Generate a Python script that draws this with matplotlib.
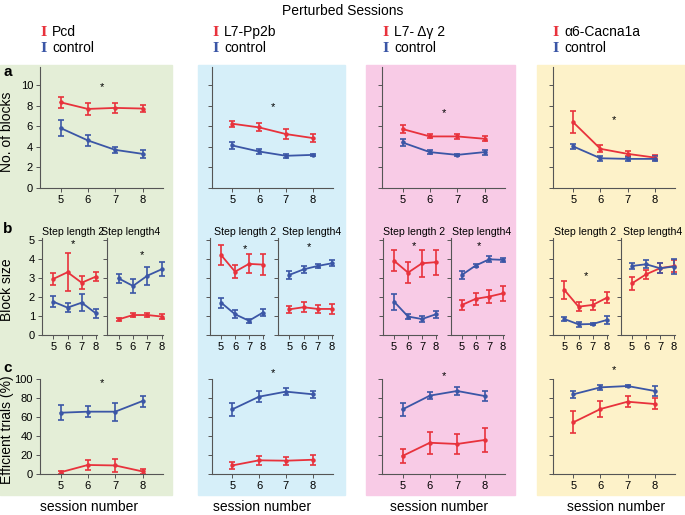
import matplotlib
matplotlib.use('Agg')
import matplotlib.pyplot as plt
from matplotlib.patches import Rectangle

plt.rcParams['font.family'] = ['Liberation Sans', 'DejaVu Sans']

sessions = [5, 6, 7, 8]
mutants = ['Pcd', 'L7-Pp2b', 'L7- \u0394\u03b3 2', '\u03b16-Cacna1a']

# a: number of blocks (mutant / control, mean and error)
blocks_mut = [[8.36, 7.71, 7.81, 7.75], [6.27, 5.91, 5.26, 4.87],
              [5.75, 5.03, 5.03, 4.80], [6.40, 3.82, 3.33, 2.97]]
blocks_mut_err = [[0.52, 0.57, 0.50, 0.33], [0.30, 0.40, 0.45, 0.40],
                  [0.36, 0.20, 0.25, 0.25], [1.07, 0.35, 0.25, 0.20]]
blocks_ctl = [[5.85, 4.64, 3.72, 3.33], [4.15, 3.56, 3.14, 3.23],
              [4.44, 3.50, 3.23, 3.50], [4.05, 2.90, 2.84, 2.84]]
blocks_ctl_err = [[0.78, 0.57, 0.30, 0.40], [0.30, 0.25, 0.20, 0.13],
                  [0.30, 0.20, 0.10, 0.25], [0.25, 0.25, 0.22, 0.25]]

# b: block size, step length 2
step2_mut = [[2.95, 3.30, 2.75, 3.07], [4.20, 3.33, 3.74, 3.70],
             [3.90, 3.28, 3.77, 3.83], [2.37, 1.49, 1.58, 1.96]]
step2_mut_err = [[0.30, 1.00, 0.35, 0.24], [0.53, 0.35, 0.50, 0.55],
                 [0.55, 0.55, 0.70, 0.66], [0.47, 0.25, 0.25, 0.30]]
step2_ctl = [[1.75, 1.44, 1.70, 1.14], [1.70, 1.09, 0.75, 1.18],
             [1.75, 0.97, 0.84, 1.09], [0.84, 0.56, 0.58, 0.79]]
step2_ctl_err = [[0.30, 0.24, 0.46, 0.25], [0.26, 0.20, 0.10, 0.18],
                 [0.41, 0.15, 0.18, 0.18], [0.12, 0.12, 0.07, 0.20]]

# b: block size, step length 4
step4_mut = [[0.82, 1.05, 1.05, 0.97], [1.35, 1.46, 1.37, 1.37],
             [1.58, 1.90, 2.02, 2.19], [2.72, 3.19, 3.51, 3.63]]
step4_mut_err = [[0.10, 0.10, 0.12, 0.12], [0.20, 0.25, 0.20, 0.25],
                 [0.25, 0.30, 0.35, 0.40], [0.35, 0.25, 0.25, 0.30]]
step4_ctl = [[2.98, 2.58, 3.12, 3.46], [3.16, 3.45, 3.63, 3.77],
             [3.16, 3.65, 3.98, 3.95], [3.63, 3.72, 3.51, 3.60]]
step4_ctl_err = [[0.24, 0.39, 0.48, 0.38], [0.20, 0.18, 0.12, 0.15],
                 [0.20, 0.10, 0.15, 0.12], [0.15, 0.20, 0.25, 0.40]]

# c: efficient trials (%)
eff_mut = [[1.8, 9.5, 9.0, 2.7], [9.0, 14.4, 14.0, 15.0],
           [19.0, 32.9, 31.6, 35.8], [54.4, 68.4, 76.1, 73.7]]
eff_mut_err = [[1.5, 5.3, 7.0, 2.5], [4.0, 5.0, 4.0, 5.0],
               [7.0, 11.7, 10.5, 12.3], [11.6, 8.8, 5.8, 5.8]]
eff_ctl = [[64.5, 65.6, 65.6, 76.8], [68.0, 81.4, 86.7, 83.9],
           [68.0, 82.5, 87.4, 82.1], [83.9, 91.2, 92.6, 87.4]]
eff_ctl_err = [[7.7, 6.0, 9.6, 5.8], [7.0, 5.8, 3.5, 3.5],
               [7.0, 3.5, 4.5, 5.0], [3.5, 2.8, 1.0, 5.5]]

# significance stars (x, y in data units)
star_a = [(6.5, 9.8), (6.5, 7.9), (6.5, 7.35), (6.5, 6.6)]
star_b2 = [(6.35, 4.8), (6.7, 4.5), (6.4, 4.7), (6.55, 3.1)]
star_b4 = [(6.6, 4.2), (6.4, 4.6), (6.25, 4.7), None]
star_c = [(6.5, 96), (6.5, 106), (6.5, 103), (6.5, 109)]

red = '#e8323c'
blue = '#3b56a6'
bg_colors = ['#e4eed7', '#d6eff9', '#f8cbe6', '#fdf2c9']

W, H = 685, 515
fig = plt.figure(figsize=(6.85, 5.15), dpi=100)


def px_axes(x0, x1, ytop, ybot):
    return fig.add_axes([x0 / W, 1 - ybot / H, (x1 - x0) / W, (ybot - ytop) / H])


def style(ax, ylim, yticks, ylabels, xlim):
    ax.set_facecolor('none')
    for s in ['top', 'right']:
        ax.spines[s].set_visible(False)
    for s in ['left', 'bottom']:
        ax.spines[s].set_color('#555555')
        ax.spines[s].set_linewidth(0.8)
    ax.set_xlim(xlim)
    ax.set_ylim(ylim)
    ax.set_xticks(sessions)
    ax.set_yticks(yticks)
    if not ylabels:
        ax.set_yticklabels([])
    ax.tick_params(length=3, width=0.7, color='#555555', labelsize=8, pad=2)


def draw(ax, mut, mut_err, ctl, ctl_err):
    for y, e, c in [(mut, mut_err, red), (ctl, ctl_err, blue)]:
        ax.errorbar(sessions, y, yerr=e, color=c, lw=1.3, elinewidth=1.2,
                    capsize=2.5, capthick=1.2, marker='o', ms=2.2, clip_on=False)


def ylab(ax, text, x_px, y_px, axx, axtop, axbot):
    # x_px is the right edge of the rotated label
    ax.set_ylabel(text, fontsize=10)
    ax.yaxis.set_label_coords((x_px - axx[0]) / (axx[1] - axx[0]),
                              (axbot - y_px) / (axbot - axtop))


# background panels
bg_x = [(0, 172), (198, 345), (366, 515), (537, 685)]
for (x0, x1), col in zip(bg_x, bg_colors):
    fig.patches.append(Rectangle((x0 / W, 1 - 495 / H), (x1 - x0) / W, 430 / H,
                                 transform=fig.transFigure, color=col, zorder=-5))

a_x = [(40, 163), (212, 333), (382, 505), (553, 675)]
b_left = [(42, 97), (210, 264), (383, 437), (553, 608)]
b_right = [(107, 163), (278, 333), (451, 504), (621, 675)]
leg_x = [43, 215, 385, 555]
sess_x = [89, 262, 439, 616]
step2_x = [73, 245, 414, 585]
step4_x = [131, 312, 482, 653]

for i in range(4):
    first = i == 0
    # row a
    ax = px_axes(a_x[i][0], a_x[i][1], 67, 188)
    style(ax, (0, 11.8), [0, 2, 4, 6, 8, 10], first, (4.25, 8.75))
    draw(ax, blocks_mut[i], blocks_mut_err[i], blocks_ctl[i], blocks_ctl_err[i])
    ax.text(*star_a[i], '*', ha='center', va='center', fontsize=8)
    if first:
        ylab(ax, 'No. of blocks', 14, 132, a_x[0], 67, 188)

    # row b
    ax = px_axes(b_left[i][0], b_left[i][1], 238, 335)
    style(ax, (0, 5.1), [0, 1, 2, 3, 4, 5], first, (4.2, 8.08))
    draw(ax, step2_mut[i], step2_mut_err[i], step2_ctl[i], step2_ctl_err[i])
    ax.text(*star_b2[i], '*', ha='center', va='center', fontsize=8)
    if first:
        ylab(ax, 'Block size', 14, 290, b_left[0], 238, 335)
    ax = px_axes(b_right[i][0], b_right[i][1], 238, 335)
    style(ax, (0, 5.1), [0, 1, 2, 3, 4, 5], False, (4.2, 8.08))
    draw(ax, step4_mut[i], step4_mut_err[i], step4_ctl[i], step4_ctl_err[i])
    if star_b4[i] is not None:
        ax.text(*star_b4[i], '*', ha='center', va='center', fontsize=8)
    fig.text(step2_x[i] / W, 1 - 232 / H, 'Step length 2', ha='center', va='center', fontsize=7.6)
    fig.text(step4_x[i] / W, 1 - 232 / H, 'Step length4', ha='center', va='center', fontsize=7.6)

    # row c
    ax = px_axes(a_x[i][0], a_x[i][1], 379, 474)
    style(ax, (0, 100), [0, 20, 40, 60, 80, 100], first, (4.25, 8.75))
    draw(ax, eff_mut[i], eff_mut_err[i], eff_ctl[i], eff_ctl_err[i])
    ax.text(*star_c[i], '*', ha='center', va='center', fontsize=8)
    if first:
        ylab(ax, 'Efficient trials (%)', 14, 430, a_x[0], 379, 474)
    fig.text(sess_x[i] / W, 1 - 507 / H, 'session number', ha='center', va='center', fontsize=10)

    # legend
    fig.text(leg_x[i] / W, 1 - 32 / H, 'I', color=red, family='DejaVu Serif',
             fontweight='bold', ha='center', va='center', fontsize=9.5)
    fig.text(leg_x[i] / W, 1 - 48 / H, 'I', color=blue, family='DejaVu Serif',
             fontweight='bold', ha='center', va='center', fontsize=9.5)
    fig.text((leg_x[i] + 9) / W, 1 - 32 / H, mutants[i], ha='left', va='center', fontsize=10)
    fig.text((leg_x[i] + 9) / W, 1 - 48 / H, 'control', ha='left', va='center', fontsize=10)

fig.text(343 / W, 1 - 11 / H, 'Perturbed Sessions', ha='center', va='center', fontsize=10)
for lab, y in [('a', 72), ('b', 229), ('c', 368)]:
    fig.text(3 / W, 1 - y / H, lab, ha='left', va='center', fontsize=11, fontweight='bold')

fig.savefig('out.png', dpi=100)
